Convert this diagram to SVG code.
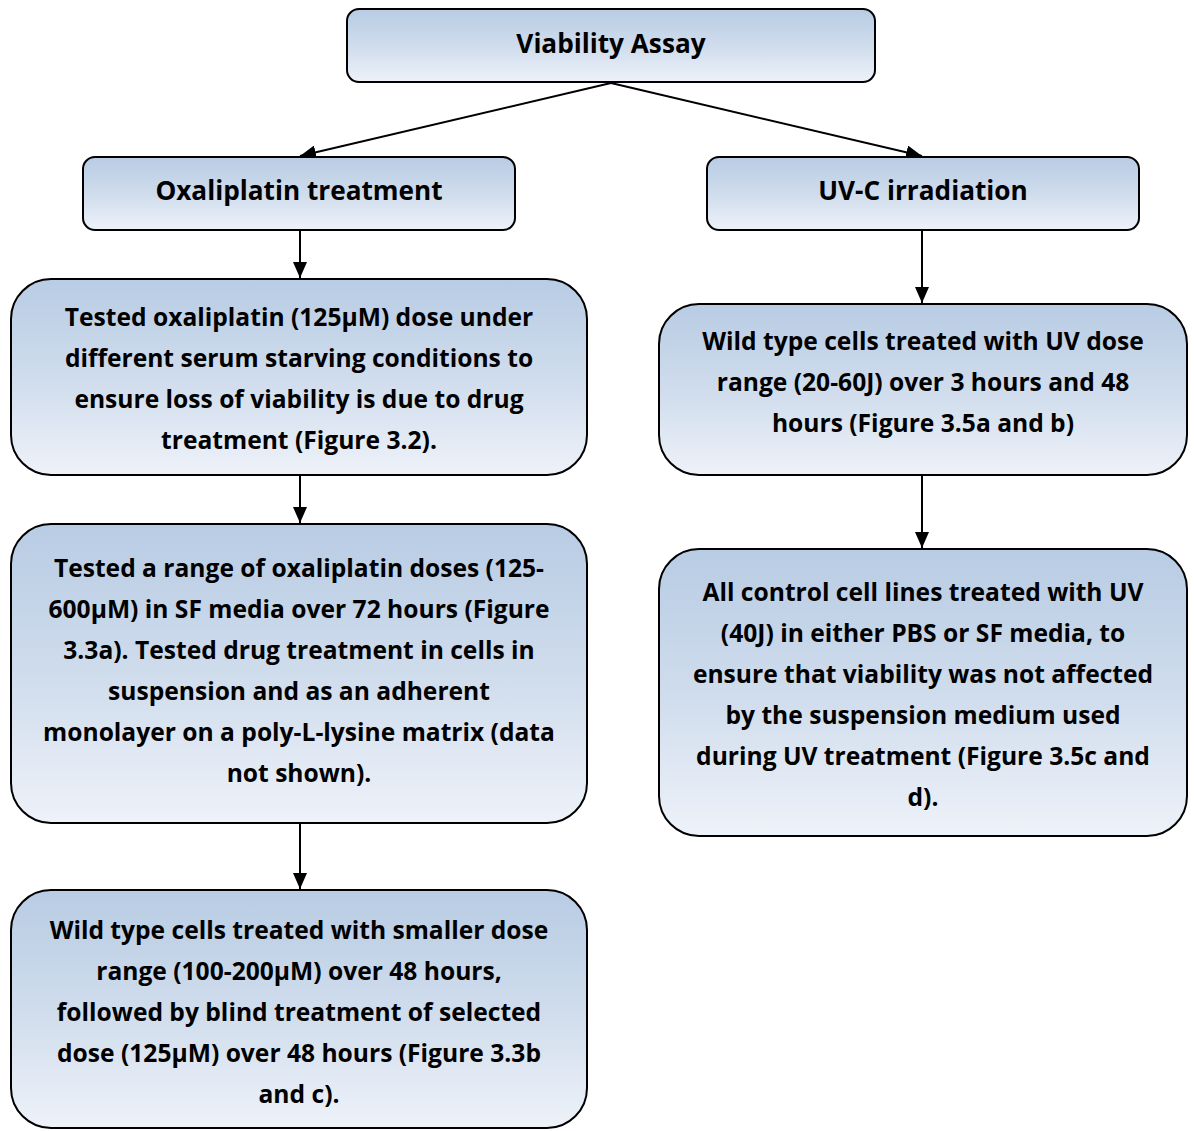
<svg xmlns="http://www.w3.org/2000/svg" width="1194" height="1131" viewBox="0 0 1194 1131">
<defs>
<linearGradient id="g" x1="0" y1="0" x2="0" y2="1">
<stop offset="0" stop-color="#b8cce4"/>
<stop offset="0.5" stop-color="#cfdcec"/>
<stop offset="1" stop-color="#eef2f9"/>
</linearGradient>
<marker id="ah2" viewBox="0 0 16 14" refX="16" refY="7" markerWidth="16" markerHeight="14" markerUnits="userSpaceOnUse" orient="auto">
<path d="M0,0 L16,7 L0,14 z" fill="#000"/>
</marker>
</defs>
<style>
.box{fill:url(#g);stroke:#000;stroke-width:2}
.t{font-family:"Open Sans","Liberation Sans",sans-serif;font-weight:bold;font-size:24.6px;fill:#000;text-anchor:middle}
.h{font-size:26.2px}
.c{stroke:#000;stroke-width:2;fill:none;marker-end:url(#ah2)}
</style>
<rect width="1194" height="1131" fill="#fff"/>
<g id="connectors">
<line class="c" x1="611" y1="83" x2="300" y2="156"/>
<line class="c" x1="611" y1="83" x2="922" y2="156"/>
<line class="c" x1="300" y1="230" x2="300" y2="278"/>
<line class="c" x1="300" y1="475" x2="300" y2="523"/>
<line class="c" x1="300" y1="823" x2="300" y2="889"/>
<line class="c" x1="922" y1="230" x2="922" y2="303"/>
<line class="c" x1="922" y1="475" x2="922" y2="548"/>
</g>
<g id="n-viability">
<rect class="box" x="347" y="9" width="528" height="73" rx="12"/>
<text class="t h" x="611" y="53">Viability Assay</text>
</g>
<g id="n-oxali">
<rect class="box" x="83" y="157" width="432" height="73" rx="12"/>
<text class="t h" x="299" y="200">Oxaliplatin treatment</text>
</g>
<g id="n-uvc">
<rect class="box" x="707" y="157" width="432" height="73" rx="12"/>
<text class="t h" x="923" y="200">UV-C irradiation</text>
</g>
<g id="n-a">
<rect class="box" x="11" y="279" width="576" height="196" rx="40"/>
<text class="t" x="299"><tspan x="299" y="326">Tested oxaliplatin (125µM) dose under</tspan><tspan x="299" y="367">different serum starving conditions to</tspan><tspan x="299" y="408">ensure loss of viability is due to drug</tspan><tspan x="299" y="449">treatment (Figure 3.2).</tspan></text>
</g>
<g id="n-b">
<rect class="box" x="11" y="524" width="576" height="299" rx="40"/>
<text class="t" x="299"><tspan x="299" y="577">Tested a range of oxaliplatin doses (125-</tspan><tspan x="299" y="618">600µM) in SF media over 72 hours (Figure</tspan><tspan x="299" y="659">3.3a). Tested drug treatment in cells in</tspan><tspan x="299" y="700">suspension and as an adherent</tspan><tspan x="299" y="741">monolayer on a poly-L-lysine matrix (data</tspan><tspan x="299" y="782">not shown).</tspan></text>
</g>
<g id="n-c">
<rect class="box" x="11" y="890" width="576" height="238" rx="40"/>
<text class="t" x="299"><tspan x="299" y="939">Wild type cells treated with smaller dose</tspan><tspan x="299" y="980">range (100-200µM) over 48 hours,</tspan><tspan x="299" y="1021">followed by blind treatment of selected</tspan><tspan x="299" y="1062">dose (125µM) over 48 hours (Figure 3.3b</tspan><tspan x="299" y="1103">and c).</tspan></text>
</g>
<g id="n-d">
<rect class="box" x="659" y="304" width="528" height="171" rx="40"/>
<text class="t" x="923"><tspan x="923" y="350">Wild type cells treated with UV dose</tspan><tspan x="923" y="391">range (20-60J) over 3 hours and 48</tspan><tspan x="923" y="432">hours (Figure 3.5a and b)</tspan></text>
</g>
<g id="n-e">
<rect class="box" x="659" y="549" width="528" height="287" rx="40"/>
<text class="t" x="923"><tspan x="923" y="601">All control cell lines treated with UV</tspan><tspan x="923" y="642">(40J) in either PBS or SF media, to</tspan><tspan x="923" y="683">ensure that viability was not affected</tspan><tspan x="923" y="724">by the suspension medium used</tspan><tspan x="923" y="765">during UV treatment (Figure 3.5c and</tspan><tspan x="923" y="806">d).</tspan></text>
</g>
</svg>
